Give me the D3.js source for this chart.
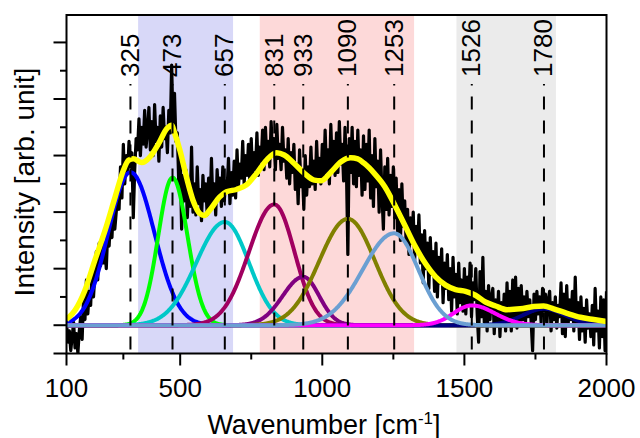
<!DOCTYPE html>
<html>
<head>
<meta charset="utf-8">
<script src="https://cdn.jsdelivr.net/npm/d3@7"></script>
<style>
  body { margin: 0; background: #fff; }
  svg { display: block; }
  text { font-family: "Liberation Sans", Arial, Helvetica, sans-serif; fill: #000; }
</style>
</head>
<body>
<svg id="chart" width="640" height="438"></svg>
<script>
// Measured Raman spectrum, sampled every 5 cm-1 from 100 to 2000 cm-1
const specStart = 100;
const specStep = 5;
const intensity = [
  0.1, -0.6, -0.2, -0.9, -0.4, 0.1, -0.8, -0.3, -1.0, -0.2,
  0.3, -0.5, 1.0, 0.2, 1.6, 0.4, 1.2, 0.7, 2.0, 1.0,
  1.8, 2.6, 1.6, 2.9, 2.1, 3.1, 2.2, 2.7, 2.0, 3.3,
  2.8, 3.9, 3.1, 4.3, 3.4, 4.0, 4.6, 4.1, 5.6, 4.5,
  6.4, 5.0, 6.0, 5.4, 6.5, 5.6, 6.1, 3.8, 5.5, 6.6,
  6.2, 7.3, 6.0, 7.0, 6.4, 7.6, 6.3, 6.9, 7.7, 6.2,
  7.2, 6.0, 7.8, 6.5, 7.0, 5.8, 7.4, 6.3, 7.7, 6.6,
  7.0, 6.1, 7.6, 6.8, 9.2, 7.0, 8.2, 6.5, 6.8, 5.0,
  6.0, 3.4, 5.3, 4.4, 5.5, 3.8, 4.9, 4.2, 6.3, 4.0,
  5.0, 3.9, 5.6, 4.3, 4.8, 3.7, 5.3, 4.4, 5.0, 3.9,
  5.2, 4.1, 5.9, 4.3, 5.0, 3.9, 5.5, 4.5, 5.2, 4.2,
  5.6, 4.4, 5.1, 4.8, 5.9, 4.3, 5.4, 4.6, 5.8, 4.5,
  6.2, 4.9, 5.7, 5.2, 6.5, 5.0, 6.0, 5.3, 6.4, 5.1,
  6.6, 5.2, 6.1, 5.5, 6.8, 5.3, 6.3, 5.8, 6.9, 5.5,
  7.0, 5.8, 6.5, 5.6, 7.2, 6.0, 6.6, 5.5, 7.1, 5.9,
  6.4, 5.5, 7.0, 5.8, 6.2, 5.2, 6.6, 5.0, 6.1, 5.4,
  6.4, 4.8, 5.7, 4.3, 6.2, 4.9, 5.5, 4.1, 6.0, 4.6,
  5.6, 4.9, 6.3, 5.0, 5.8, 4.8, 6.5, 5.2, 5.9, 5.0,
  6.4, 5.2, 6.9, 5.4, 6.2, 5.0, 7.1, 5.6, 6.5, 5.3,
  6.8, 5.4, 7.2, 5.7, 6.4, 5.1, 7.0, 5.5, 2.5, 6.6,
  5.4, 7.0, 5.0, 6.5, 4.9, 6.9, 5.3, 6.2, 4.6, 6.7,
  4.8, 6.4, 5.1, 6.9, 4.5, 6.0, 4.2, 6.6, 4.9, 5.8,
  4.0, 6.2, 4.6, 3.4, 5.6, 4.1, 5.9, 3.9, 5.3, 4.2,
  5.6, 3.8, 5.2, 3.3, 4.8, 3.0, 5.0, 3.5, 4.4, 2.9,
  4.1, 2.5, 3.8, 2.9, 4.0, 2.3, 3.5, 2.6, 3.9, 2.2,
  3.2, 1.5, 3.35, 2.0, 2.9, 1.3, 3.1, 1.8, 2.6, 1.2,
  2.9, 1.0, 2.4, 1.5, 2.7, 0.8, 2.2, 1.3, 2.5, 0.9,
  2.0, 0.5, 2.4, 1.0, 1.8, 0.4, 2.2, 0.8, 1.6, 0.5,
  2.0, 0.4, 1.7, 0.8, 2.2, 0.3, 1.5, 0.9, 2.0, 0.4,
  -0.6, 1.9, 0.3, 2.4, 0.1, 1.2, -0.2, 1.4, 0.2, 1.0,
  1.3, -0.3, 0.9, 0.1, 1.2, -0.4, 0.8, 0.0, 1.1, -0.2,
  1.5, 0.0, 1.2, -0.2, 1.6, 0.2, 1.7, -0.1, 1.3, 0.1,
  1.4, 0.2, 1.0, 0.1, 1.2, 0.3, 0.9, 0.1, -0.9, 1.1,
  0.2, 1.2, 0.4, 1.0, 0.1, 1.3, 0.5, 1.1, 0.0, 0.9,
  1.2, -0.2, 0.8, 0.2, 1.0, -0.1, 0.7, 0.3, 1.5, -0.3,
  1.1, -0.4, 1.4, 0.0, 0.9, 0.2, 1.2, -0.2, 1.7, 0.0,
  0.8, -0.5, 1.0, -0.2, 0.6, -0.6, 0.9, -0.1, 0.4, -0.4,
  0.7, -0.7, 1.3, -0.2, 0.5, -0.8, 1.0, -0.4, 0.9, -0.9,
  1.2
];

// Cumulative fit curve (cm-1, intensity)
const fitWavenumber = [100, 130, 165, 200, 236, 271, 300, 318, 335, 365,
  394, 424, 453, 470, 481, 499, 522, 545, 569, 585,
  604, 639, 663, 698, 733, 769, 804, 839, 866, 901,
  937, 972, 996, 1031, 1066, 1100, 1125, 1148, 1183, 1220,
  1258, 1293, 1328, 1363, 1399, 1434, 1469, 1504, 1539, 1574,
  1610, 1650, 1697, 1744, 1779, 1814, 1861, 1908, 1955, 2000];
const fitIntensity = [0.2, 0.53, 1.24, 2.3, 3.36, 4.53, 5.47, 5.83, 5.89, 5.75,
  5.95, 6.42, 6.95, 7.07, 6.78, 6.19, 5.24, 4.42, 3.95, 3.88,
  4.07, 4.54, 4.72, 4.8, 4.96, 5.37, 5.84, 6.1, 6.02, 5.72,
  5.37, 5.13, 5.11, 5.42, 5.78, 5.92, 5.88, 5.72, 5.37, 4.9,
  4.19, 3.48, 2.77, 2.18, 1.71, 1.42, 1.26, 1.2, 1.06, 0.82,
  0.68, 0.55, 0.58, 0.66, 0.68, 0.58, 0.42, 0.28, 0.2, 0.13];

// Fitted peak components: centre (cm-1), height, half widths left/right (cm-1)
const peakCenters = [325, 473, 657, 831, 933, 1090, 1253, 1526, 1780];
const peakHeights = [5.41, 5.22, 3.65, 4.27, 1.71, 3.76, 3.25, 0.70, 0.58];
const peakHalfLeft = [92, 59, 118, 105, 85, 118, 130, 75, 88];
const peakHalfRight = [99, 62, 100, 84, 66, 112, 100, 95, 88];
const peakColors = ["#0000ff", "#00ff00", "#00c8c8", "#a00060", "#800080",
                    "#808000", "#6b9fd2", "#ff00ff", "#000080"];

// Assigned spectral regions (cm-1)
const regionStart = [352, 780, 1472];
const regionEnd = [686, 1323, 1822];
const regionColors = ["#d8d8f8", "#fdd9d9", "#ebebeb"];

const xTicksMajor = [100, 500, 1000, 1500, 2000];
const xTicksMinor = [300, 750, 1250, 1750];
const yTicksMajor = [-1, 0, 2, 4, 6, 8, 10];
const yTicksMinor = [1, 3, 5, 7, 9];

const m = { left: 66.5, right: 606.5, top: 15, bottom: 353.5 };

const svg = d3.select("#chart");
const x = d3.scaleLinear().domain([100, 2000]).range([m.left, m.right]);
const y = d3.scaleLinear().domain([-1, 10.97]).range([m.bottom, m.top]);

const spectrum = intensity.map((v, i) => ({ w: specStart + i * specStep, v }));
const fitData = fitWavenumber.map((w, i) => ({ w, v: fitIntensity[i] }));

function component(k, w) {
  const c = peakCenters[k];
  const hw = w < c ? peakHalfLeft[k] : peakHalfRight[k];
  const t = (w - c) / hw;
  return peakHeights[k] * Math.exp(-Math.LN2 * t * t);
}
const grid = d3.range(100, 2000.01, 2);
const compData = peakCenters.map((c, k) => grid.map(w => ({ w, v: component(k, w) })));

svg.append("defs").append("clipPath").attr("id", "plotClip")
  .append("rect").attr("x", m.left).attr("y", m.top)
  .attr("width", m.right - m.left).attr("height", m.bottom - m.top);

// shaded regions
svg.append("g").selectAll("rect").data(regionStart).join("rect")
  .attr("x", d => x(d))
  .attr("y", m.top)
  .attr("width", (d, i) => x(regionEnd[i]) - x(d))
  .attr("height", m.bottom - m.top)
  .attr("fill", (d, i) => regionColors[i]);

const plot = svg.append("g").attr("clip-path", "url(#plotClip)");
const line = d3.line().x(d => x(d.w)).y(d => y(d.v));

// measured spectrum
plot.append("path").datum(spectrum)
  .attr("d", line).attr("fill", "none")
  .attr("stroke", "#000").attr("stroke-width", 3.2).attr("stroke-linejoin", "round");

// fitted components
const drawOrder = [0, 1, 2, 3, 4, 5, 8, 7, 6];
drawOrder.forEach(k => {
  plot.append("path").datum(compData[k])
    .attr("d", line).attr("fill", "none")
    .attr("stroke", peakColors[k]).attr("stroke-width", 4);
});

// cumulative fit
plot.append("path").datum(fitData)
  .attr("d", d3.line().curve(d3.curveMonotoneX).x(d => x(d.w)).y(d => y(d.v)))
  .attr("fill", "none")
  .attr("stroke", "#ffff00").attr("stroke-width", 5.5);

// peak position markers
const marks = svg.append("g");
marks.selectAll("line").data(peakCenters).join("line")
  .attr("x1", d => x(d)).attr("x2", d => x(d))
  .attr("y1", 84).attr("y2", m.bottom)
  .attr("stroke", "#000").attr("stroke-width", 2)
  .attr("stroke-dasharray", "13,11").attr("stroke-dashoffset", 11.5);
marks.selectAll("text").data(peakCenters).join("text")
  .attr("transform", d => `translate(${x(d) + 8.5},77) rotate(-90)`)
  .attr("font-size", 26)
  .text(d => d);

// frame
svg.append("rect").attr("x", m.left).attr("y", m.top)
  .attr("width", m.right - m.left).attr("height", m.bottom - m.top)
  .attr("fill", "none").attr("stroke", "#000").attr("stroke-width", 2);

// x axis ticks
const xAxis = svg.append("g");
xAxis.selectAll("line.maj").data(xTicksMajor).join("line").attr("class", "maj")
  .attr("x1", d => x(d)).attr("x2", d => x(d))
  .attr("y1", m.bottom).attr("y2", m.bottom + 12)
  .attr("stroke", "#000").attr("stroke-width", 2);
xAxis.selectAll("line.min").data(xTicksMinor).join("line").attr("class", "min")
  .attr("x1", d => x(d)).attr("x2", d => x(d))
  .attr("y1", m.bottom).attr("y2", m.bottom + 6)
  .attr("stroke", "#000").attr("stroke-width", 2);
xAxis.selectAll("text").data(xTicksMajor).join("text")
  .attr("x", d => x(d)).attr("y", 396.5)
  .attr("text-anchor", "middle").attr("font-size", 26)
  .text(d => d);

// y axis ticks (no labels)
const yAxis = svg.append("g");
yAxis.selectAll("line.maj").data(yTicksMajor).join("line").attr("class", "maj")
  .attr("x1", m.left - 13).attr("x2", m.left)
  .attr("y1", d => y(d)).attr("y2", d => y(d))
  .attr("stroke", "#000").attr("stroke-width", 2);
yAxis.selectAll("line.min").data(yTicksMinor).join("line").attr("class", "min")
  .attr("x1", m.left - 6.5).attr("x2", m.left)
  .attr("y1", d => y(d)).attr("y2", d => y(d))
  .attr("stroke", "#000").attr("stroke-width", 2);

// axis titles
const xt = svg.append("text")
  .attr("x", 324).attr("y", 433.5)
  .attr("text-anchor", "middle").attr("font-size", 27);
xt.append("tspan").text("Wavenumber [cm");
xt.append("tspan").attr("font-size", 17).attr("dy", -10).text("-1");
xt.append("tspan").attr("dy", 10).text("]");

svg.append("text")
  .attr("transform", "translate(33.5,182) rotate(-90)")
  .attr("text-anchor", "middle").attr("font-size", 28)
  .text("Intensity [arb. unit]");
</script>
</body>
</html>
